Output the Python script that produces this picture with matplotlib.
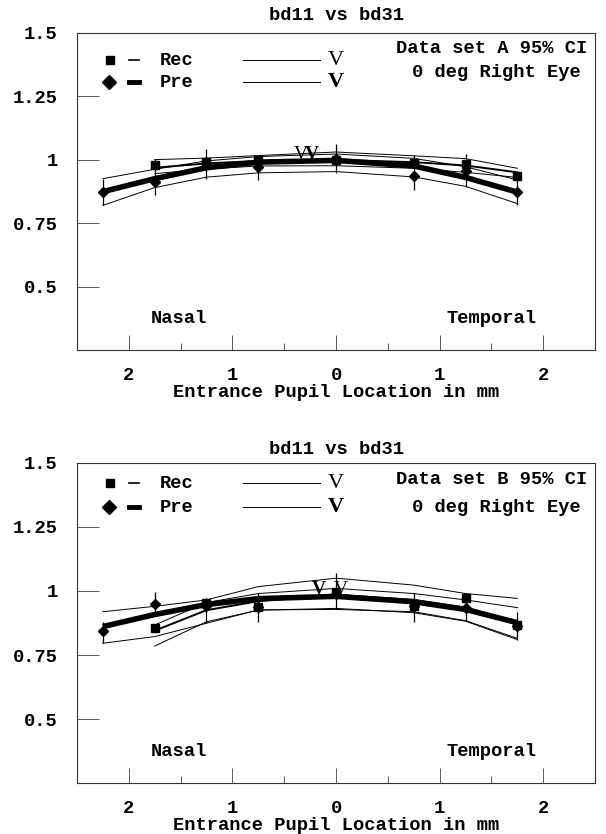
import numpy as np
import matplotlib.pyplot as plt
from matplotlib.lines import Line2D

plt.rcParams['font.family'] = ['Liberation Mono', 'DejaVu Sans Mono']
plt.rcParams['font.weight'] = 'bold'

# pupil positions (mm, nasal negative)
x_all = [-2.25, -1.75, -1.25, -0.75, 0.0, 0.75, 1.25, 1.75]
x_rec = x_all[1:]
xtick_pos = [-2, -1, 0, 1, 2]
xtick_lab = ['2', '1', '0', '1', '2']
ytick_pos = [0.5, 0.75, 1.0, 1.25, 1.5]
ytick_lab = ['0.5', '0.75', '1', '1.25', '1.5']

# ---- data set A
a_rec = [0.977, 0.990, 0.999, 1.000, 0.986, 0.984, 0.934]
a_pre = [0.872, 0.912, 0.985, 0.971, 1.003, 0.934, 0.955, 0.872]
a_err_lo = [0.820, 0.859, 0.925, 0.921, 0.947, 0.882, 0.892, 0.820]
a_err_hi = [0.925, 1.003, 1.043, 1.017, 1.062, 1.017, 1.023, 0.951]
a_pre_fit = [0.874, 0.925, 0.968, 0.990, 0.997, 0.975, 0.930, 0.872]
a_pre_hi = [0.925, 0.962, 0.995, 1.012, 1.022, 1.005, 0.972, 0.920]
a_pre_lo = [0.820, 0.890, 0.931, 0.948, 0.953, 0.932, 0.895, 0.827]
a_rec_fit = [0.968, 0.985, 0.995, 0.999, 0.990, 0.977, 0.950]
a_rec_hi = [1.000, 1.006, 1.016, 1.030, 1.015, 1.004, 0.966]
a_rec_lo = [0.945, 0.963, 0.975, 0.976, 0.966, 0.950, 0.930]
a_vtx_rec = (-0.34, 1.004)
a_vtx_pre = (-0.23, 1.004)

# ---- data set B
b_rec = [0.855, 0.955, 0.937, 0.997, 0.940, 0.973, 0.868]
b_pre = [0.845, 0.948, 0.940, 0.937, 0.990, 0.940, 0.932, 0.862]
b_err_lo = [0.796, 0.913, 0.874, 0.880, 0.928, 0.880, 0.884, 0.809]
b_err_hi = [0.880, 0.997, 0.971, 0.993, 1.070, 0.991, 0.990, 0.919]
b_pre_fit = [0.861, 0.908, 0.947, 0.970, 0.979, 0.958, 0.928, 0.876]
b_pre_hi = [0.919, 0.940, 0.965, 1.017, 1.050, 1.023, 0.990, 0.971]
b_pre_lo = [0.796, 0.822, 0.874, 0.926, 0.928, 0.919, 0.884, 0.815]
b_rec_fit = [0.845, 0.925, 0.960, 0.985, 0.965, 0.935, 0.880]
b_rec_hi = [0.867, 0.955, 0.990, 1.010, 0.990, 0.965, 0.935]
b_rec_lo = [0.785, 0.880, 0.925, 0.932, 0.915, 0.882, 0.810]
b_vtx_rec = (0.05, 0.990)
b_vtx_pre = (-0.165, 0.990)

panels = [
    dict(rect=[0.127, 0.580, 0.855, 0.381], tag='A',
         rec=a_rec, pre=a_pre, elo=a_err_lo, ehi=a_err_hi,
         pfit=a_pre_fit, phi=a_pre_hi, plo=a_pre_lo,
         rfit=a_rec_fit, rhi=a_rec_hi, rlo=a_rec_lo,
         vrec=a_vtx_rec, vpre=a_vtx_pre,
         leg_y=(0.912, 0.843), txt_y=(0.950, 0.874), title_y=1.053),
    dict(rect=[0.127, 0.061, 0.855, 0.384], tag='B',
         rec=b_rec, pre=b_pre, elo=b_err_lo, ehi=b_err_hi,
         pfit=b_pre_fit, phi=b_pre_hi, plo=b_pre_lo,
         rfit=b_rec_fit, rhi=b_rec_hi, rlo=b_rec_lo,
         vrec=b_vtx_rec, vpre=b_vtx_pre,
         leg_y=(0.937, 0.862), txt_y=(0.947, 0.862), title_y=1.041),
]

fig = plt.figure(figsize=(6.06, 8.34), dpi=100)
fs = 13.5

for p in panels:
    ax = fig.add_axes(p['rect'])
    # CI and fit lines
    for yy in (p['phi'], p['plo']):
        ax.plot(x_all, yy, color='black', lw=0.7)
    for yy in (p['rhi'], p['rlo']):
        ax.plot(x_rec, yy, color='black', lw=0.7)
    ax.plot(x_rec, p['rfit'], color='black', lw=1.4)
    ax.plot(x_all, p['pfit'], color='black', lw=4.0, solid_capstyle='butt')
    ax.vlines(x_all, p['elo'], p['ehi'], color='black', lw=0.9)
    ax.plot(x_rec, p['rec'], 's', color='black', ms=5.5)
    ax.plot(x_all, p['pre'], 'D', color='black', ms=5.5)
    # vertex marks
    ax.text(p['vrec'][0], p['vrec'][1], 'V', family='Liberation Serif',
            weight='normal', fontsize=14, ha='center', va='baseline')
    ax.text(p['vpre'][0], p['vpre'][1], 'V', family='Liberation Serif',
            weight='bold', fontsize=14, ha='center', va='baseline')

    ax.set_xlim(-2.5, 2.5)
    ax.set_ylim(0.25, 1.5)
    ax.set_xticks(xtick_pos)
    ax.set_xticklabels(xtick_lab)
    ax.set_xticks([-1.5, -0.5, 0.5, 1.5], minor=True)
    ax.set_yticks(ytick_pos)
    ax.set_yticklabels(ytick_lab)
    ax.tick_params(axis='x', which='major', direction='in', length=11,
                   width=0.6, pad=12, labelsize=fs, color='#444444')
    ax.tick_params(axis='x', which='minor', direction='in', length=5,
                   width=0.6, color='#444444')
    ax.tick_params(axis='y', which='major', direction='in', length=16,
                   width=0.6, pad=14, labelsize=fs, color='#444444')
    for s in ax.spines.values():
        s.set_linewidth(0.8)
        s.set_color('#333333')
    ax.set_xlabel('Entrance Pupil Location in mm', fontsize=fs,
                  weight='bold', labelpad=0)
    ax.text(0.5, p['title_y'], 'bd11 vs bd31', transform=ax.transAxes,
            ha='center', va='center', fontsize=fs)

    # legend drawn by hand
    ly1, ly2 = p['leg_y']
    tr = ax.transAxes
    ax.plot([0.064], [ly1], 's', color='black', ms=6, transform=tr)
    ax.plot([0.062], [ly2], 'D', color='black', ms=7, transform=tr)
    ax.add_line(Line2D([0.101, 0.119], [ly1, ly1], color='black', lw=1.2,
                       transform=tr))
    ax.add_line(Line2D([0.101, 0.119], [ly2, ly2], color='black', lw=3.5,
                       transform=tr))
    ax.text(0.159, ly1, 'Rec', transform=tr, va='center', fontsize=fs)
    ax.text(0.159, ly2, 'Pre', transform=tr, va='center', fontsize=fs)
    for yy in (ly1, ly2):
        ax.add_line(Line2D([0.321, 0.469], [yy, yy], color='black', lw=0.7,
                           transform=tr))
    ax.text(0.50, ly1, 'V', transform=tr, ha='center', va='center',
            family='Liberation Serif', weight='normal', fontsize=16)
    ax.text(0.50, ly2, 'V', transform=tr, ha='center', va='center',
            family='Liberation Serif', weight='bold', fontsize=16)

    ty1, ty2 = p['txt_y']
    ax.text(0.80, ty1, 'Data set %s 95%% CI' % p['tag'], transform=tr,
            ha='center', va='center', fontsize=fs)
    ax.text(0.81, ty2, '0 deg Right Eye', transform=tr,
            ha='center', va='center', fontsize=fs)

    ax.text(-1.52, 0.374, 'Nasal', ha='center', va='center', fontsize=fs)
    ax.text(1.50, 0.374, 'Temporal', ha='center', va='center', fontsize=fs)

fig.savefig('out.png', dpi=100)
